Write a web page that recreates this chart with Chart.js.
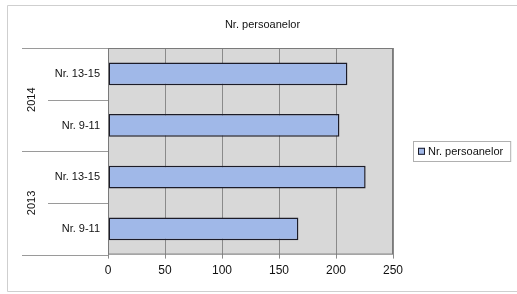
<!DOCTYPE html>
<html>
<head>
<meta charset="utf-8">
<script src="https://cdn.jsdelivr.net/npm/chart.js@4.4.0/dist/chart.umd.min.js"></script>
<style>
html,body{margin:0;padding:0;background:#fff;}
#wrap{width:517px;height:294px;position:relative;}
</style>
</head>
<body>
<div id="wrap"><canvas id="c" width="517" height="294"></canvas></div>
<script>
const chartTitle = 'Nr. persoanelor';
const seriesLabel = 'Nr. persoanelor';
const categories = ['Nr. 13-15', 'Nr. 9-11', 'Nr. 13-15', 'Nr. 9-11'];
const groups = ['2014', '2014', '2013', '2013'];
const values = [210, 203, 226, 167];
const xTicks = [0, 50, 100, 150, 200, 250];

const FONT = '"Liberation Sans", Arial, sans-serif';
const barFill = '#a0b8e8';
const barBorder = '#1c1c28';

const decor = {
  id: 'decor',
  beforeDraw(chart) {
    const ctx = chart.ctx, a = chart.chartArea;
    ctx.save();
    ctx.fillStyle = '#fff';
    ctx.fillRect(0, 0, chart.width, chart.height);
    // outer frame
    ctx.strokeStyle = '#cfcfcf';
    ctx.lineWidth = 1;
    ctx.beginPath();
    ctx.moveTo(chart.width, 5.5); ctx.lineTo(7.5, 5.5); ctx.lineTo(7.5, 291.5); ctx.lineTo(chart.width, 291.5);
    ctx.stroke();
    // plot background
    ctx.fillStyle = '#d8d8d8';
    ctx.fillRect(a.left, a.top, a.right - a.left, a.bottom - a.top);
    // title
    ctx.fillStyle = '#111';
    ctx.font = '11px ' + FONT;
    ctx.textAlign = 'center';
    ctx.textBaseline = 'middle';
    ctx.fillText(chartTitle, chart.width / 2 + 4, 25);
    ctx.restore();
  },
  afterDraw(chart) {
    const ctx = chart.ctx, a = chart.chartArea, y = chart.scales.y;
    ctx.save();
    // plot border
    ctx.strokeStyle = '#7a7a7a';
    ctx.lineWidth = 1;
    ctx.strokeRect(a.left + 0.5, a.top + 0.5, a.right - a.left - 1, a.bottom - a.top - 1);
    // category separators
    ctx.strokeStyle = '#9a9a9a';
    const n = categories.length;
    const bounds = [];
    for (let i = 0; i <= n; i++) {
      let py;
      if (i === 0) py = a.top;
      else if (i === n) py = a.bottom;
      else py = (y.getPixelForValue(i - 1) + y.getPixelForValue(i)) / 2;
      bounds.push(py);
      const isGroup = i === 0 || i === n || groups[i] !== groups[i - 1];
      const x0 = isGroup ? 22 : 48;
      ctx.beginPath();
      ctx.moveTo(x0, Math.round(py) + 0.5);
      ctx.lineTo(a.left, Math.round(py) + 0.5);
      ctx.stroke();
    }
    // group labels
    ctx.fillStyle = '#111';
    ctx.font = '11px ' + FONT;
    ctx.textAlign = 'center';
    ctx.textBaseline = 'middle';
    let start = 0;
    for (let i = 1; i <= n; i++) {
      if (i === n || groups[i] !== groups[start]) {
        const cy = (bounds[start] + bounds[i]) / 2;
        ctx.save();
        ctx.translate(32, cy);
        ctx.rotate(-Math.PI / 2);
        ctx.fillText(groups[start], 0, 0);
        ctx.restore();
        start = i;
      }
    }
    // legend
    const lx = a.right + 20, cyL = (a.top + a.bottom) / 2;
    ctx.font = '11px ' + FONT;
    const tw = ctx.measureText(seriesLabel).width;
    const w = Math.min(chart.width - lx - 1, tw + 22), h = 20;
    ctx.strokeStyle = '#b0b0b0';
    ctx.strokeRect(Math.round(lx) + 0.5, Math.round(cyL - h / 2) + 0.5, w, h);
    ctx.fillStyle = barFill;
    ctx.fillRect(lx + 5, cyL - 3.5, 7, 7);
    ctx.strokeStyle = barBorder;
    ctx.strokeRect(lx + 5.5, cyL - 3, 6, 6);
    ctx.fillStyle = '#111';
    ctx.textAlign = 'left';
    ctx.fillText(seriesLabel, lx + 15, cyL + 0.5);
    ctx.restore();
  }
};

new Chart(document.getElementById('c'), {
  type: 'bar',
  data: {
    labels: categories,
    datasets: [{
      label: seriesLabel,
      data: values,
      backgroundColor: barFill,
      borderColor: barBorder,
      borderWidth: 1.5,
      borderSkipped: false,
      categoryPercentage: 1,
      barPercentage: 0.44
    }]
  },
  options: {
    indexAxis: 'y',
    responsive: false,
    animation: false,
    devicePixelRatio: 1,
    layout: { padding: { left: 10, right: 124, top: 48, bottom: 11 } },
    plugins: {
      legend: { display: false },
      tooltip: { enabled: false },
      title: { display: false }
    },
    scales: {
      x: {
        min: xTicks[0],
        max: xTicks[xTicks.length - 1],
        afterBuildTicks(s) { s.ticks = xTicks.map(v => ({ value: v })); },
        grid: { color: '#8a8a8a', lineWidth: 1, drawTicks: true, tickLength: 4, tickColor: '#8a8a8a' },
        border: { display: false },
        ticks: { color: '#111', font: { family: FONT, size: 12 }, padding: 5, maxRotation: 0 }
      },
      y: {
        afterFit(s) { s.width = 98; },
        grid: { display: false, drawTicks: false },
        border: { display: false },
        ticks: { color: '#111', font: { family: FONT, size: 11 }, padding: 8 }
      }
    }
  },
  plugins: [decor]
});
</script>
</body>
</html>
